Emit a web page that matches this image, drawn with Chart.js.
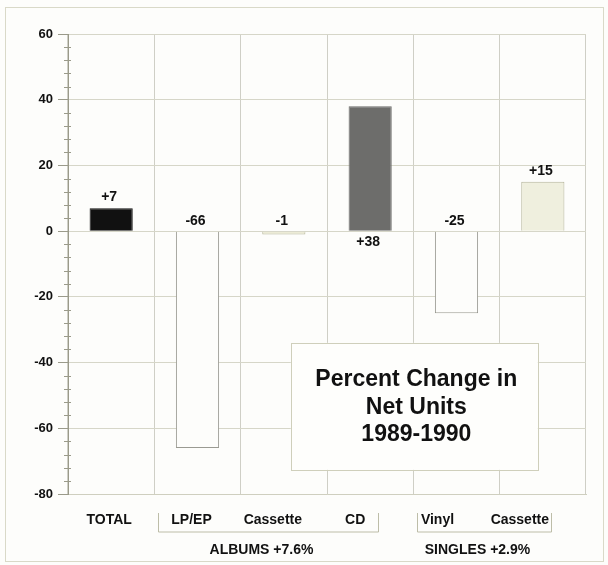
<!DOCTYPE html>
<html>
<head>
<meta charset="utf-8">
<script src="https://cdn.jsdelivr.net/npm/chart.js@4/dist/chart.umd.min.js"></script>
<style>
  html, body { margin: 0; padding: 0; background: #fdfdfb; }
  #wrap { width: 608px; height: 565px; position: relative; }
</style>
</head>
<body>
<div id="wrap"><canvas id="c" width="608" height="565"></canvas></div>
<script>
// ---- data ----
const categories = ['TOTAL', 'LP/EP', 'Cassette', 'CD', 'Vinyl', 'Cassette'];
const values = [7, -66, -1, 38, -25, 15];
const valueLabels = ['+7', '-66', '-1', '+38', '-25', '+15'];
const labelPlacement = ['end', 'baseAbove', 'baseAbove', 'baseBelow', 'baseAbove', 'end'];
const groupLabels = ['ALBUMS +7.6%', 'SINGLES +2.9%'];
const groupFrom = [1, 4];
const groupTo = [3, 5];
const titleLines = ['Percent Change in', 'Net Units', '1989-1990'];
const yTicks = [-80, -60, -40, -20, 0, 20, 40, 60];

// ---- styles ----
const FONT = "'Liberation Sans', Arial, Helvetica, sans-serif";
const barFill = ['#111111', '#fdfdfb', '#ecebd6', '#6d6d6b', '#fdfdfb', '#efefde'];
const barEdge = ['#111111', '#9a9a92', '#b8b89c', '#6d6d6b', '#9a9a92', '#b4b49a'];
const catLabelShift = [-2, -6, -11, -15, -19, -23];

const decor = {
  id: 'decor',
  beforeDraw(chart) {
    const ctx = chart.ctx;
    ctx.save();
    ctx.fillStyle = '#fdfdfb';
    ctx.fillRect(0, 0, chart.width, chart.height);
    ctx.strokeStyle = '#d9d9c8';
    ctx.lineWidth = 1;
    ctx.strokeRect(5.5, 7.5, 598, 554);
    ctx.restore();
  },
  afterDraw(chart) {
    const ctx = chart.ctx;
    const x = chart.scales.x, y = chart.scales.y;
    const area = chart.chartArea;
    ctx.save();
    // minor ticks on y axis
    ctx.strokeStyle = '#9a9a8a';
    ctx.lineWidth = 1;
    for (let v = yTicks[0]; v <= yTicks[yTicks.length - 1]; v += 4) {
      if (v % 20 === 0) continue;
      const py = Math.round(y.getPixelForValue(v)) + 0.5;
      ctx.beginPath();
      ctx.moveTo(area.left - 4, py);
      ctx.lineTo(area.left + 3, py);
      ctx.stroke();
    }
    // category labels (from the x scale)
    ctx.fillStyle = '#111';
    ctx.font = 'bold 14px ' + FONT;
    ctx.textAlign = 'center';
    ctx.textBaseline = 'middle';
    x.ticks.forEach((t, i) => {
      ctx.fillText(chart.data.labels[i], x.getPixelForValue(i) + catLabelShift[i], area.bottom + 26);
    });
    // value labels
    const meta = chart.getDatasetMeta(0);
    const zero = y.getPixelForValue(0);
    meta.data.forEach((bar, i) => {
      let ly;
      if (labelPlacement[i] === 'end') ly = bar.y - 11;
      else if (labelPlacement[i] === 'baseAbove') ly = zero - 10;
      else ly = zero + 11;
      ctx.fillText(valueLabels[i], bar.x - 2, ly);
    });
    // group brackets
    const step = x.getPixelForValue(1) - x.getPixelForValue(0);
    ctx.strokeStyle = '#bdbda8';
    ctx.lineWidth = 1;
    groupLabels.forEach((g, k) => {
      const left = Math.round(x.getPixelForValue(groupFrom[k]) - step / 2 + 4) + 0.5;
      const right = Math.round(x.getPixelForValue(groupTo[k]) + 8) + 0.5;
      const top = area.bottom + 19, bot = area.bottom + 38;
      ctx.beginPath();
      ctx.moveTo(left, top);
      ctx.lineTo(left, bot);
      ctx.lineTo(right, bot);
      ctx.lineTo(right, top);
      ctx.stroke();
      ctx.fillStyle = '#111';
      ctx.textAlign = 'center';
      ctx.textBaseline = 'middle';
      ctx.fillText(g, (left + right) / 2 - 7, area.bottom + 56);
    });
    // title box
    const bx = x.getPixelForValue(2) + 7, byTop = y.getPixelForValue(-34);
    const bw = 247, bh = 127;
    ctx.fillStyle = '#fefefc';
    ctx.fillRect(bx, byTop, bw, bh);
    ctx.strokeStyle = '#cfcfbb';
    ctx.strokeRect(Math.round(bx) + 0.5, Math.round(byTop) + 0.5, bw, bh);
    ctx.fillStyle = '#111';
    ctx.font = 'bold 23px ' + FONT;
    titleLines.forEach((t, i) => {
      ctx.fillText(t, bx + bw / 2 + 2, byTop + 37 + i * 27.5);
    });
    ctx.restore();
  }
};

new Chart(document.getElementById('c'), {
  type: 'bar',
  data: {
    labels: categories,
    datasets: [{
      data: values,
      backgroundColor: barFill,
      borderColor: barEdge,
      borderWidth: 1,
      barPercentage: 0.5,
      categoryPercentage: 1.0
    }]
  },
  options: {
    responsive: false,
    animation: false,
    events: [],
    layout: { padding: { left: 0, right: 22, top: 34, bottom: 0 } },
    plugins: { legend: { display: false }, tooltip: { enabled: false }, title: { display: false } },
    scales: {
      x: {
        afterFit(s) { s.height = 71; },
        grid: { color: '#cfcfc6', drawTicks: false, offset: true },
        border: { color: '#cfcfbf' },
        ticks: { display: false }
      },
      y: {
        min: -80, max: 60,
        afterFit(s) { s.width = 68; },
        afterBuildTicks(s) { s.ticks = yTicks.map(v => ({ value: v })); },
        grid: { color: '#d6d6c8', tickColor: '#9a9a8a', tickLength: 10 },
        border: { color: '#9a9a8a' },
        ticks: { color: '#111', font: { family: FONT, size: 13, weight: 'bold' }, padding: 5 }
      }
    }
  },
  plugins: [decor]
});
</script>
</body>
</html>
